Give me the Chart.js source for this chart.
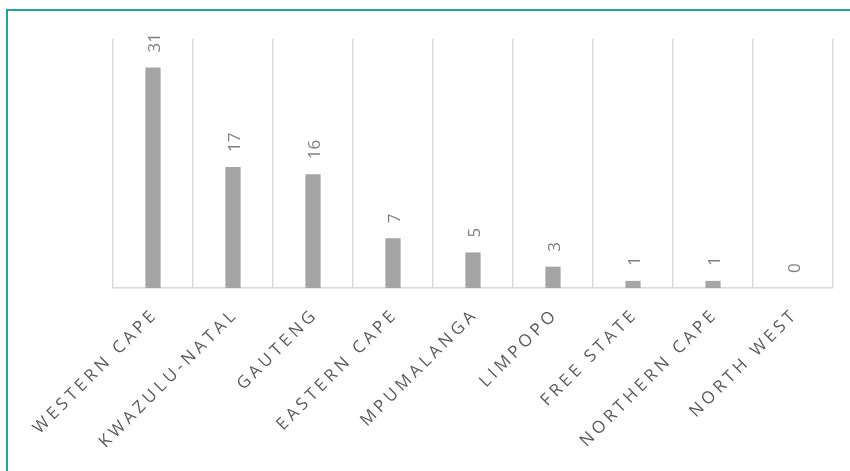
<!DOCTYPE html>
<html>
<head>
<meta charset="utf-8">
<script src="https://cdn.jsdelivr.net/npm/chart.js@4.4.1/dist/chart.umd.min.js"></script>
<style>
  html, body { margin: 0; padding: 0; background: #fff; overflow: hidden; }
  #wrap { position: relative; width: 850px; height: 471px; }
  #frame {
    position: absolute; left: 6px; top: 9px; width: 900px; height: 500px;
    border-top: 2px solid #1fa59b; border-left: 2px solid #1fa59b;
  }
  canvas { position: absolute; left: 0; top: 0; }
</style>
</head>
<body>
<div id="wrap">
  <div id="frame"></div>
  <canvas id="chart" width="850" height="471"></canvas>
</div>
<script>
const provinces = [
  "WESTERN CAPE", "KWAZULU-NATAL", "GAUTENG", "EASTERN CAPE", "MPUMALANGA",
  "LIMPOPO", "FREE STATE", "NORTHERN CAPE", "NORTH WEST"
];
const counts = [31, 17, 16, 7, 5, 3, 1, 1, 0];

// value labels above the bars, rotated to read upwards
const valueLabels = {
  id: "valueLabels",
  afterDatasetsDraw(chart) {
    let ctx = chart.ctx;
    let meta = chart.getDatasetMeta(0);
    ctx.save();
    ctx.font = "17px 'Open Sans'";
    ctx.fillStyle = "#7f7f7f";
    ctx.textAlign = "left";
    ctx.textBaseline = "middle";
    meta.data.forEach((bar, i) => {
      ctx.save();
      ctx.translate(bar.x + 2, bar.y - 15);
      ctx.rotate(-Math.PI / 2);
      ctx.fillText(String(counts[i]), 0, 0);
      ctx.restore();
    });
    ctx.restore();
  },
};

// category labels at 45 degrees with letter spacing
const slantLabels = {
  id: "slantLabels",
  afterDraw(chart) {
    let ctx = chart.ctx;
    let x = chart.scales.x;
    ctx.save();
    ctx.font = "17px 'Open Sans'";
    ctx.letterSpacing = "3.9px";
    ctx.fillStyle = "#595959";
    ctx.textAlign = "right";
    ctx.textBaseline = "alphabetic";
    provinces.forEach((name, i) => {
      ctx.save();
      ctx.translate(x.getPixelForValue(i) + 6, chart.chartArea.bottom + 27);
      ctx.rotate(-Math.PI / 4);
      ctx.fillText(name, 0, 0);
      ctx.restore();
    });
    ctx.restore();
  },
};

new Chart(document.getElementById("chart"), {
  type: "bar",
  data: {
    labels: provinces,
    datasets: [
      {
        data: counts,
        backgroundColor: "#a5a5a5",
        barPercentage: 0.19,
        categoryPercentage: 1,
      },
    ],
  },
  options: {
    responsive: false,
    animation: false,
    layout: {
      padding: { left: 113, right: 17, top: 39, bottom: 183 },
    },
    plugins: {
      legend: { display: false },
      tooltip: { enabled: false },
    },
    scales: {
      y: {
        display: false,
        min: 0,
        max: 35,
      },
      x: {
        grid: {
          offset: true,
          color: "#d9d9d9",
          lineWidth: 1.5,
          drawTicks: false,
        },
        border: { color: "#d9d9d9", width: 1.5 },
        ticks: { display: false },
      },
    },
  },
  plugins: [valueLabels, slantLabels],
});
</script>
</body>
</html>
